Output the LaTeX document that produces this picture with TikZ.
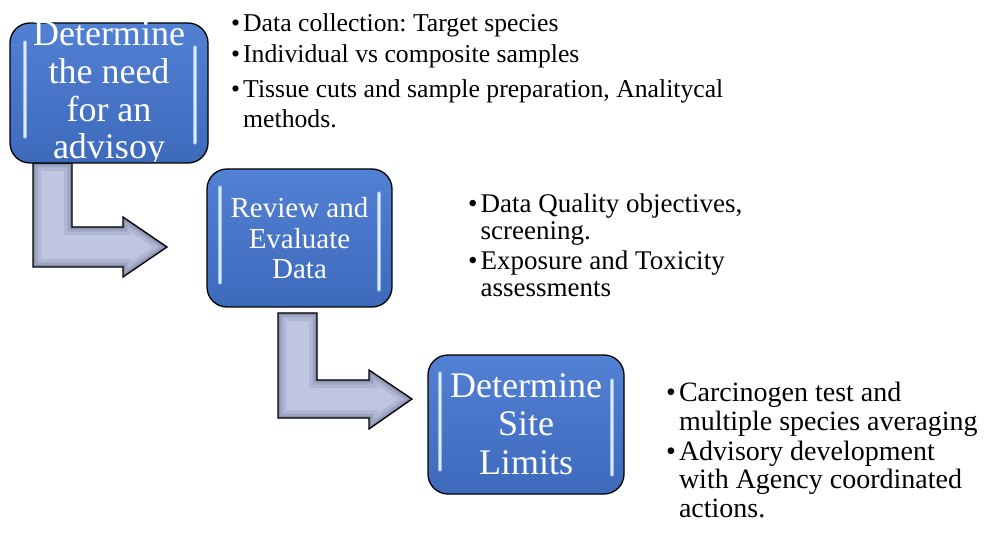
\documentclass[tikz,border=0pt]{standalone}
\usepackage{fontspec}
\setmainfont{Liberation Serif}
\frenchspacing
\definecolor{boxtop}{RGB}{82,128,210}
\definecolor{boxbot}{RGB}{62,106,188}
\definecolor{glint}{RGB}{160,200,248}
\definecolor{arrowfill}{RGB}{190,198,226}
\definecolor{arrowedge}{RGB}{96,104,134}
\newcommand{\mybul}{\textbullet\hspace{3pt}}
\newcommand{\myind}{\phantom{\mybul}}
\tikzset{
  stepbox/.style={rounded corners=20pt, top color=boxtop, bottom color=boxbot,
    draw=black, line width=1.3pt, inner sep=0pt},
  glintline/.style={draw=glint, line width=3.2pt, line cap=round, opacity=0.9},
  glintcore/.style={draw=white, line width=1.2pt, line cap=round, opacity=0.7},
  boxtext/.style={text=white, align=center, inner sep=0pt, anchor=base},
  bullettext/.style={align=left, inner sep=0pt, anchor=base west, text=black},
  arrowone/.style={insert path={(33,163) -- (72,163) -- (72,227) -- (123,227) -- (123,217)
    -- (167,247) -- (123,277) -- (123,267) -- (33,267) -- cycle}},
  arrowtwo/.style={insert path={(278,313) -- (317,313) -- (317,380) -- (369,380) -- (369,370)
    -- (412,399) -- (369,429) -- (369,418) -- (278,418) -- cycle}},
}
\newcommand{\blockarrow}[1]{%
  \fill[arrowfill, #1];
  \begin{scope}
    \clip[#1];
    \draw[#1, line width=16pt, arrowedge, opacity=0.15];
    \draw[#1, line width=9pt, arrowedge, opacity=0.22];
    \draw[#1, line width=4pt, arrowedge, opacity=0.35];
  \end{scope}
  \draw[#1, black, line width=1.3pt, line join=miter];
}
\newcommand{\glints}[4]{%
  \draw[glintline] (#1) -- (#2);
  \draw[glintcore] (#1) -- (#2);
  \draw[glintline] (#3) -- (#4);
  \draw[glintcore] (#3) -- (#4);
}
\begin{document}
\begin{tikzpicture}[x=1pt, y=-1pt]
\useasboundingbox (0,0) rectangle (993,534);

% block arrows
\blockarrow{arrowone}
\blockarrow{arrowtwo}

% boxes
\node[stepbox, minimum width=198pt, minimum height=140pt] (b1) at (109,93) {};
\node[stepbox, minimum width=185pt, minimum height=138pt] (b2) at (299.5,238) {};
\node[stepbox, minimum width=196pt, minimum height=139pt] (b3) at (526,424.5) {};

% glossy highlights
\glints{25,42}{25,137}{195,47}{195,143}
\glints{220,187}{220,283}{379,193}{379,290}
\glints{440,373}{440,470}{612,380}{612,475}

% box texts (anchor base = baseline of last line)
\begin{scope}
  \clip (0,0) rectangle (993,162);
  \node[boxtext, font=\fontsize{36}{37.7}\selectfont] (t1) at (109,159)
    {Determine\\the need\\for an\\advisoy};
\end{scope}
\node[boxtext, font=\fontsize{29}{30.5}\selectfont] (t2) at (299.5,279)
  {Review and\\Evaluate\\Data};
\node[boxtext, font=\fontsize{36}{38.5}\selectfont] (t3) at (526,474)
  {Determine\\Site\\Limits};

% bullet texts
\node[bullettext, font=\fontsize{25.7}{30.5}\selectfont] (l1) at (231,128)
  {\mybul Data collection: Target species\\[0.5pt]
   \mybul Individual vs composite samples\\[4.5pt]
   \mybul Tissue cuts and sample preparation, Analitycal\\
   \myind methods.};
\node[bullettext, font=\fontsize{27}{27}\selectfont] (l2) at (468,297)
  {\mybul Data Quality objectives,\\
   \myind screening.\\[3pt]
   \mybul Exposure and Toxicity\\
   \myind assessments};
\node[bullettext, font=\fontsize{28}{28.5}\selectfont] (l3) at (666,517)
  {\mybul Carcinogen test and\\
   \myind multiple species averaging\\[1.5pt]
   \mybul Advisory development\\
   \myind with Agency coordinated\\
   \myind actions.};
\end{tikzpicture}
\end{document}
